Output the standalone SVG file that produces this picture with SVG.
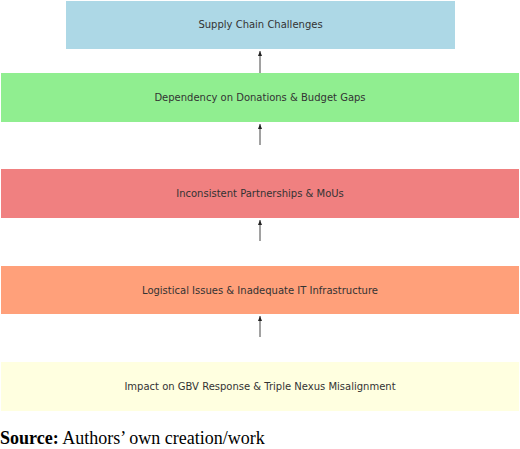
<svg xmlns="http://www.w3.org/2000/svg" width="520" height="449" viewBox="0 0 520 449">
<style>
.lbl{font-family:"DejaVu Sans",sans-serif;font-size:10px;fill:#333;text-anchor:middle;dominant-baseline:central}
.edge{stroke:#444;stroke-width:1;fill:none;marker-end:url(#ah)}
.src{font-family:"Liberation Serif",serif;font-size:18px;fill:#000}
</style>
<defs>
<marker id="ah" viewBox="0 0 5 4" refX="5" refY="2" markerWidth="5" markerHeight="4" orient="auto" markerUnits="userSpaceOnUse">
<path d="M0,0 L5,2 L0,4 z" fill="#222"/>
</marker>
</defs>
<rect width="520" height="449" fill="#fff"/>
<g id="n1"><rect x="66" y="1" width="389" height="48" fill="#add8e6"/><text class="lbl" x="260.5" y="24">Supply Chain Challenges</text></g>
<g id="n2"><rect x="1" y="73" width="518" height="49" fill="#90ee90"/><text class="lbl" x="260" y="97">Dependency on Donations &amp; Budget Gaps</text></g>
<g id="n3"><rect x="1" y="169" width="518" height="49" fill="#f08080"/><text class="lbl" x="260" y="193">Inconsistent Partnerships &amp; MoUs</text></g>
<g id="n4"><rect x="1" y="266" width="518" height="48" fill="#ffa07a"/><text class="lbl" x="260" y="290">Logistical Issues &amp; Inadequate IT Infrastructure</text></g>
<g id="n5"><rect x="1" y="362" width="518" height="49" fill="#ffffe0"/><text class="lbl" x="260" y="386">Impact on GBV Response &amp; Triple Nexus Misalignment</text></g>
<g id="edges">
<line class="edge" x1="260" y1="73" x2="260" y2="51"/>
<line class="edge" x1="260" y1="145" x2="260" y2="124"/>
<line class="edge" x1="260" y1="241" x2="260" y2="220"/>
<line class="edge" x1="260" y1="337" x2="260" y2="316"/>
</g>
<text class="src" x="0" y="444"><tspan font-weight="bold">Source:</tspan> Authors’ own creation/work</text>
</svg>
